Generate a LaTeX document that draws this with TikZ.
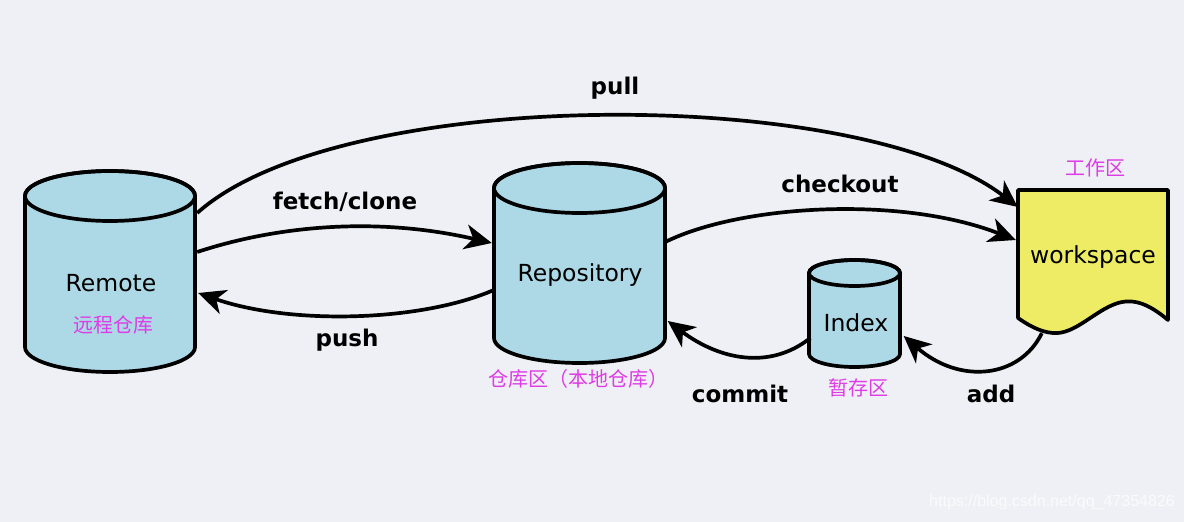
\documentclass[tikz,border=0pt]{standalone}
\usepackage{fontspec}
\setmainfont{DejaVu Sans}
\newfontfamily\cjk{Noto Sans CJK SC}
\newfontfamily\wmfont{Liberation Sans}
\usetikzlibrary{arrows.meta}
\definecolor{bgc}{RGB}{239,240,245}
\definecolor{cylfill}{RGB}{173,216,230}
\definecolor{wsfill}{RGB}{237,236,100}
\definecolor{cnmag}{RGB}{222,60,230}
\definecolor{wmc}{RGB}{251,251,253}
\tikzset{
  shapeline/.style={draw=black, line width=3.7pt, line join=round},
  cylbody/.style={shapeline, fill=cylfill},
  anchorbox/.style={draw=none, fill=none, inner sep=0pt, text=black, font=\fontsize{23.5}{26}\selectfont},
  conn/.style={draw=black, line width=3.7pt, -{Stealth[length=27pt,width=25pt,inset=8pt]}},
  lbl/.style={font=\bfseries\fontsize{23}{26}\selectfont, text=black, inner sep=0pt},
  cnlbl/.style={font=\cjk\fontsize{20}{23}\selectfont, text=cnmag, inner sep=0pt},
}
\begin{document}
\begin{tikzpicture}[x=1pt,y=1pt]
\fill[bgc] (0,0) rectangle (1184,-522);
\useasboundingbox (0,0) rectangle (1184,-522);

% Remote cylinder
\path[cylbody] (25,-196) -- (25,-347) arc[start angle=180,end angle=360,x radius=85,y radius=25] -- (195,-196) arc[start angle=0,end angle=180,x radius=85,y radius=25] -- cycle;
\draw[shapeline] (110,-196) ellipse[x radius=85,y radius=25];
% Repository cylinder
\path[cylbody] (494,-188) -- (494,-338) arc[start angle=180,end angle=360,x radius=85.5,y radius=25] -- (665,-188) arc[start angle=0,end angle=180,x radius=85.5,y radius=25] -- cycle;
\draw[shapeline] (579.5,-188) ellipse[x radius=85.5,y radius=25];
% Index cylinder
\path[cylbody] (809,-273) -- (809,-354) arc[start angle=180,end angle=360,x radius=45.5,y radius=13] -- (900,-273) arc[start angle=0,end angle=180,x radius=45.5,y radius=13] -- cycle;
\draw[shapeline] (854.5,-273) ellipse[x radius=45.5,y radius=13];
% Workspace document
\path[shapeline, fill=wsfill] (1018,-190) -- (1168,-190) -- (1168,-320)
  .. controls (1150,-305) and (1135,-298) .. (1118,-303)
  .. controls (1095,-310) and (1075,-335) .. (1053,-333)
  .. controls (1040,-332) and (1028,-325) .. (1018,-318) -- cycle;

% named nodes carrying the texts
\node[anchorbox, minimum width=170pt, minimum height=200pt] (remote) at (111,-283) {Remote};
\node[anchorbox, minimum width=171pt, minimum height=170pt] (repo) at (580,-275) {Repository};
\node[anchorbox, minimum width=91pt, minimum height=80pt] (index) at (856,-323) {Index};
\node[anchorbox, minimum width=150pt, minimum height=152pt] (ws) at (1093,-257) {workspace};

\node[cnlbl] (remotecn) at (113,-325) {远程仓库};
\node[cnlbl] (repocn) at (578,-379) {仓库区（本地仓库）};
\node[cnlbl] (indexcn) at (858,-388) {暂存区};
\node[cnlbl] (wscn) at (1095,-168) {工作区};

% connectors
\draw[conn] ([xshift=1pt,yshift=70pt]remote.east) .. controls (340,-85) and (860,-85) .. ([yshift=50pt]ws.west);
\draw[conn] ([xshift=1pt,yshift=31pt]remote.east) .. controls (270,-228) and (370,-215) .. ([xshift=-2.5pt,yshift=32pt]repo.west);
\draw[conn] ([xshift=-0.5pt,yshift=-15pt]repo.west) .. controls (420,-322) and (290,-325) .. ([xshift=2pt,yshift=-10pt]remote.east);
\draw[conn] ([xshift=-0.5pt,yshift=33pt]repo.east) .. controls (740,-205) and (900,-195) .. ([xshift=-2pt,yshift=17pt]ws.west);
\draw[conn] ([yshift=-15pt]index.west) .. controls (770,-370) and (720,-360) .. ([xshift=2pt,yshift=-46pt]repo.east);
\draw[conn] ([xshift=24pt]ws.south west) .. controls (1020,-378) and (960,-385) .. ([xshift=2pt,yshift=-13pt]index.east);

% connector labels
\node[lbl] (lpull) at (615,-88) {pull};
\node[lbl] (lfetch) at (345,-202) {fetch/clone};
\node[lbl] (lcheckout) at (840,-184) {checkout};
\node[lbl] (lpush) at (347,-340) {push};
\node[lbl] (lcommit) at (740,-394) {commit};
\node[lbl] (ladd) at (991,-394) {add};

% watermark
\node[font=\wmfont\fontsize{16}{18}\selectfont, text=wmc, inner sep=0pt] (wm) at (1052,-502) {https://blog.csdn.net/qq\_47354826};
\end{tikzpicture}
\end{document}
